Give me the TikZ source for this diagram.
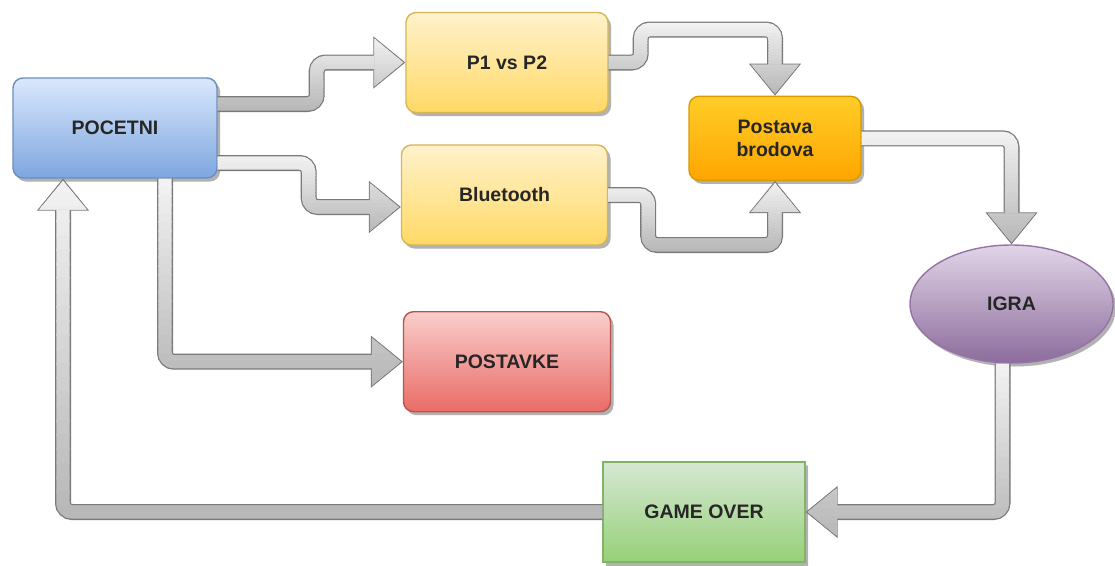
\documentclass[tikz,border=0pt]{standalone}
\usepackage{fontspec}
\setmainfont{Liberation Sans}
\usepackage{tikz}
\usetikzlibrary{
  arrows.meta,
  shapes.geometric,
  shadows}

\definecolor{startTop}{HTML}{DAE8FC}
\definecolor{startBot}{HTML}{7EA6E0}
\definecolor{startLine}{HTML}{6C8EBF}
\definecolor{modeTop}{HTML}{FFF2CC}
\definecolor{modeBot}{HTML}{FFD966}
\definecolor{modeLine}{HTML}{D6B656}
\definecolor{shipTop}{HTML}{FFCD28}
\definecolor{shipBot}{HTML}{FFA500}
\definecolor{shipLine}{HTML}{D79B00}
\definecolor{gameTop}{HTML}{E1D5E7}
\definecolor{gameBot}{HTML}{8C6C9C}
\definecolor{gameLine}{HTML}{9673A6}
\definecolor{menuTop}{HTML}{F8CECC}
\definecolor{menuBot}{HTML}{EA6B66}
\definecolor{menuLine}{HTML}{B85450}
\definecolor{endTop}{HTML}{D5E8D4}
\definecolor{endBot}{HTML}{97D077}
\definecolor{endLine}{HTML}{82B366}

% #1 path, #2 and #3 top and bottom of the arrow (for the shading bands)
\newcommand\flexarrow[3]{%
  \draw[flex outer] #1;
  \foreach \k in {0,...,23} {
    \pgfmathsetmacro\ya{#2+(#3-#2)*\k/24}
    \pgfmathsetmacro\yb{#2+(#3-#2)*(\k+1)/24+0.8}
    \pgfmathtruncatemacro\tone{10+46*\k/23}
    \begin{scope}
      \clip (0,\ya) rectangle (1115,\yb);
      \draw[flex inner, draw=gray!\tone] #1;
    \end{scope}
  }%
}

\begin{document}
\begin{tikzpicture}[x=1pt, y=-1pt]
\useasboundingbox (0,0) rectangle (1115,565);
\tikzset{
  box/.style={
    rounded corners=10pt, minimum width=204pt, minimum height=100pt,
    inner sep=0pt, line width=1.4pt, text=black!85, align=center,
    font=\bfseries\fontsize{19.5}{23.5}\selectfont,
    drop shadow={shadow xshift=3pt, shadow yshift=-3.5pt, opacity=0.4,
      draw=none, top color=black!45, bottom color=black!45},
  },
  start box/.style={box, draw=startLine, top color=startTop, bottom color=startBot},
  mode box/.style={box, draw=modeLine, top color=modeTop, bottom color=modeBot},
  ship box/.style={box, draw=shipLine, top color=shipTop, bottom color=shipBot,
    minimum width=172pt, minimum height=84pt},
  game box/.style={box, ellipse, draw=gameLine, top color=gameTop, bottom color=gameBot,
    minimum width=203pt, minimum height=118pt},
  menu box/.style={box, draw=menuLine, top color=menuTop, bottom color=menuBot},
  end box/.style={box, sharp corners, draw=endLine, top color=endTop, bottom color=endBot},
  flex outer/.style={
    draw=black!52, line width=16pt, rounded corners=9pt,
    -{Triangle[length=32pt, width=52pt, line width=1.2pt, open]},
  },
  flex inner/.style={
    line width=13.4pt, rounded corners=9pt, shorten >=2pt,
    -{Triangle[length=29pt, width=48pt, line width=0pt]},
  },
}

\node[start box] (pocetni) at (115,128) {POCETNI};
\node[mode box, minimum width=202pt] (pvp) at (507,62.5) {P1 vs P2};
\node[mode box, minimum width=206pt] (bt) at (504.5,195) {Bluetooth};
\node[ship box] (postava) at (775,138.3) {Postava\\brodova};
\node[game box] (igra) at (1011.5,304) {IGRA};
\node[menu box, minimum width=207pt] (postavke) at (507,361.7) {POSTAVKE};
\node[end box, minimum width=202pt] (gameover) at (704,512) {GAME OVER};

\flexarrow{([yshift=24pt]pocetni.east) -- ++(99,0) |- (pvp.west)}{36}{112}
\flexarrow{([yshift=-35pt]pocetni.east) -- ++(91,0) |- ([yshift=-12pt]bt.west)}{155}{233}
\flexarrow{([xshift=50pt]pocetni.south) |- (postavke.west)}{178}{388}
\flexarrow{(pvp.east) -- ++(32,0) -- ++(0,-33) -| (postava.north)}{21}{96}
\flexarrow{(bt.east) -- ++(40,0) -- ++(0,50) -| (postava.south)}{180}{253}
\flexarrow{(postava.east) -| (igra.north)}{130}{245}
\flexarrow{([xshift=-9pt]igra.south) |- (gameover.east)}{363}{538}
\flexarrow{(gameover.west) -| ([xshift=-52pt]pocetni.south)}{178}{520}
\end{tikzpicture}
\end{document}
